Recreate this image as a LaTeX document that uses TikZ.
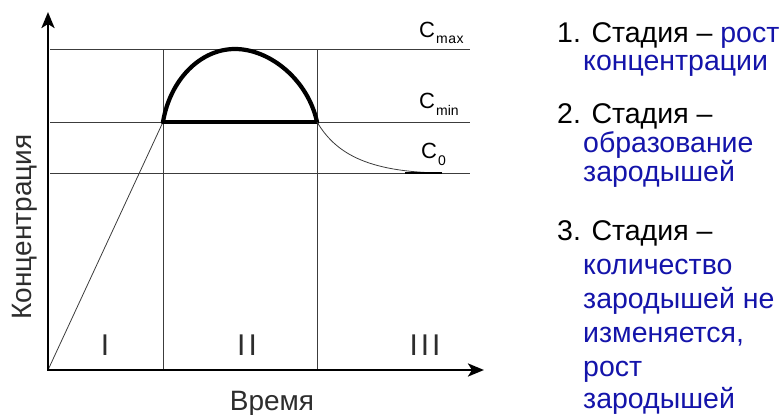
\documentclass[tikz,border=0pt]{standalone}
\usepackage{fontspec}
\setmainfont{Liberation Sans}
\usetikzlibrary{arrows.meta}
\definecolor{txtblue}{RGB}{20,20,170}
\definecolor{lnc}{RGB}{60,60,60}
\definecolor{axtxt}{RGB}{45,45,45}
\begin{document}
\begin{tikzpicture}[x=1pt,y=-1pt,
  thinln/.style={draw=lnc, line width=0.9pt},
  axisln/.style={line width=2.8pt, line join=miter, {Stealth[length=16pt,width=13pt,inset=4pt]}-{Stealth[length=16pt,width=13pt,inset=4pt]}},
  curveln/.style={line width=4.2pt, line cap=round},
  clbl/.style={anchor=base west, inner sep=0pt, font=\fontsize{22}{24}\selectfont},
  roman/.style={anchor=base, inner sep=0pt, text=axtxt, font=\fontsize{30}{32}\selectfont},
  axlbl/.style={inner sep=0pt, text=axtxt, font=\fontsize{28}{30}\selectfont},
  rtxt/.style={anchor=base west, inner sep=0pt, font=\fontsize{28.5}{30}\selectfont},
]
\useasboundingbox (0,0) rectangle (780,415);
% key points
\coordinate (O) at (48,370);
\coordinate (ytop) at (48,12);
\coordinate (xend) at (484,370);
\coordinate (A) at (163,122);
\coordinate (B) at (317,122);
\coordinate (P) at (235,49);
\coordinate (E) at (442,173);
\coordinate (hmaxL) at (50,49);  \coordinate (hmaxR) at (470,49);
\coordinate (hminL) at (50,122); \coordinate (hminR) at (470,122);
\coordinate (h0L) at (50,173);   \coordinate (h0R) at (470,173);
\coordinate (v1T) at (163,49);   \coordinate (v1B) at (163,370);
\coordinate (v2T) at (317,49);   \coordinate (v2B) at (317,370);
% grid lines
\draw[thinln] (hmaxL) -- (hmaxR);
\draw[thinln] (hminL) -- (hminR);
\draw[thinln] (h0L) -- (h0R);
\draw[thinln] (v1T) -- (v1B);
\draw[thinln] (v2T) -- (v2B);
% stage I rise
\draw[lnc, line width=0.8pt] (O) -- (A);
% stage II
\draw[curveln] (A) .. controls (170,80) and (200,49) .. (P) .. controls (270,49) and (308,80) .. (B);
\draw[curveln] (A) -- (B);
% stage III decay
\draw[lnc, line width=0.8pt] (B) .. controls (335,152) and (365,172) .. (E);
\coordinate (Es) at (405,173);
\draw[black, line width=1.6pt] (Es) -- (E);
% axes
\draw[axisln] (ytop) -- (O) -- (xend);
% level labels
\node[clbl] (cmax) at (419,37) {C\kern1pt\raisebox{-6pt}{\fontsize{14}{15}\selectfont m\kern0.6pt a\kern0.6pt x}};
\node[clbl] (cmin) at (419,108) {C\kern1pt\raisebox{-7pt}{\fontsize{14}{15}\selectfont min}};
\node[clbl] (c0) at (421,158) {C\kern1pt\raisebox{-7pt}{\fontsize{14}{15}\selectfont 0}};
% stage numerals
\node[roman] (r1) at (105,355) {I};
\node[roman] (r2) at (247,355) {I\kern3pt I};
\node[roman] (r3) at (425,355) {I\kern3pt I\kern3pt I};
% axis labels
\node[axlbl, anchor=base] (tlab) at (272,410) {Время};
\node[axlbl, rotate=90] (clab) at (25,227) {Концентрация};
% right-hand text
\node[rtxt] (t1) at (557,42) {1. Стадия – \textcolor{txtblue}{рост}};
\node[rtxt, text=txtblue] (t2) at (583,70) {концентрации};
\node[rtxt] (t3) at (557,123) {2. Стадия –};
\node[rtxt, text=txtblue] (t4) at (583,152) {образование};
\node[rtxt, text=txtblue] (t5) at (583,181) {зародышей};
\node[rtxt] (t6) at (557,240) {3. Стадия –};
\node[rtxt, text=txtblue] (t7) at (583,274) {количество};
\node[rtxt, text=txtblue] (t8) at (583,308) {зародышей не};
\node[rtxt, text=txtblue] (t9) at (583,342) {изменяется,};
\node[rtxt, text=txtblue] (t10) at (583,376) {рост};
\node[rtxt, text=txtblue] (t11) at (583,408) {зародышей};
\end{tikzpicture}
\end{document}
